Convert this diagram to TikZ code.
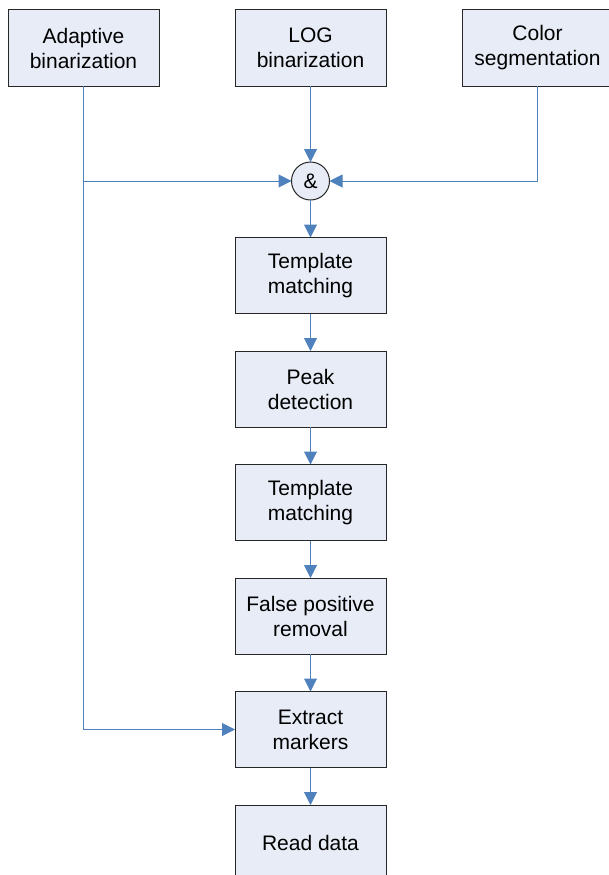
\documentclass[tikz,border=0pt]{standalone}
\usepackage{fontspec}
\setmainfont{Liberation Sans}
\usepackage{tikz}
\usetikzlibrary{arrows.meta,positioning}
\usepackage{xcolor}
\definecolor{boxfill}{HTML}{E7ECF6}
\definecolor{linkblue}{HTML}{4F81BD}
\begin{document}
\begin{tikzpicture}[x=1pt,y=-1pt,
box/.style={draw=black!85,line width=1pt,fill=boxfill,align=center,inner sep=0pt,outer sep=0pt,minimum width=151pt,minimum height=76pt,font=\fontsize{21}{25}\selectfont},
andop/.style={draw=black!85,line width=1pt,fill=boxfill,circle,inner sep=0pt,outer sep=0pt,minimum size=38pt,font=\fontsize{21}{25}\selectfont},
arr/.style={-{Triangle[length=13pt,width=13pt]},draw=linkblue,line width=1pt},node distance=37.5pt]
\useasboundingbox (0,0) rectangle (608,875);
\node[box] (ab) at (83.5,48) {Adaptive\\binarization};
\node[box] (lb) at (310.5,48) {LOG\\binarization};
\node[box] (cs) at (537.5,48) {Color\\segmentation};
\node[andop,below=76pt of lb] (and) {\&};
\node[box,below=of and] (tm1) {Template\\matching};
\node[box,below=of tm1] (pd) {Peak\\detection};
\node[box,below=of pd] (tm2) {Template\\matching};
\node[box,below=of tm2] (fp) {False positive\\removal};
\node[box,below=of fp] (em) {Extract\\markers};
\node[box,below=of em] (rd) {Read data};
\draw[arr] (lb)--(and);\draw[arr] (ab) |- (and);\draw[arr] (cs) |- (and);
\draw[arr] (and)--(tm1);\draw[arr] (tm1)--(pd);\draw[arr] (pd)--(tm2);
\draw[arr] (tm2)--(fp);\draw[arr] (fp)--(em);\draw[arr] (em)--(rd);
\draw[arr] (ab) |- (em);
\end{tikzpicture}
\end{document}
